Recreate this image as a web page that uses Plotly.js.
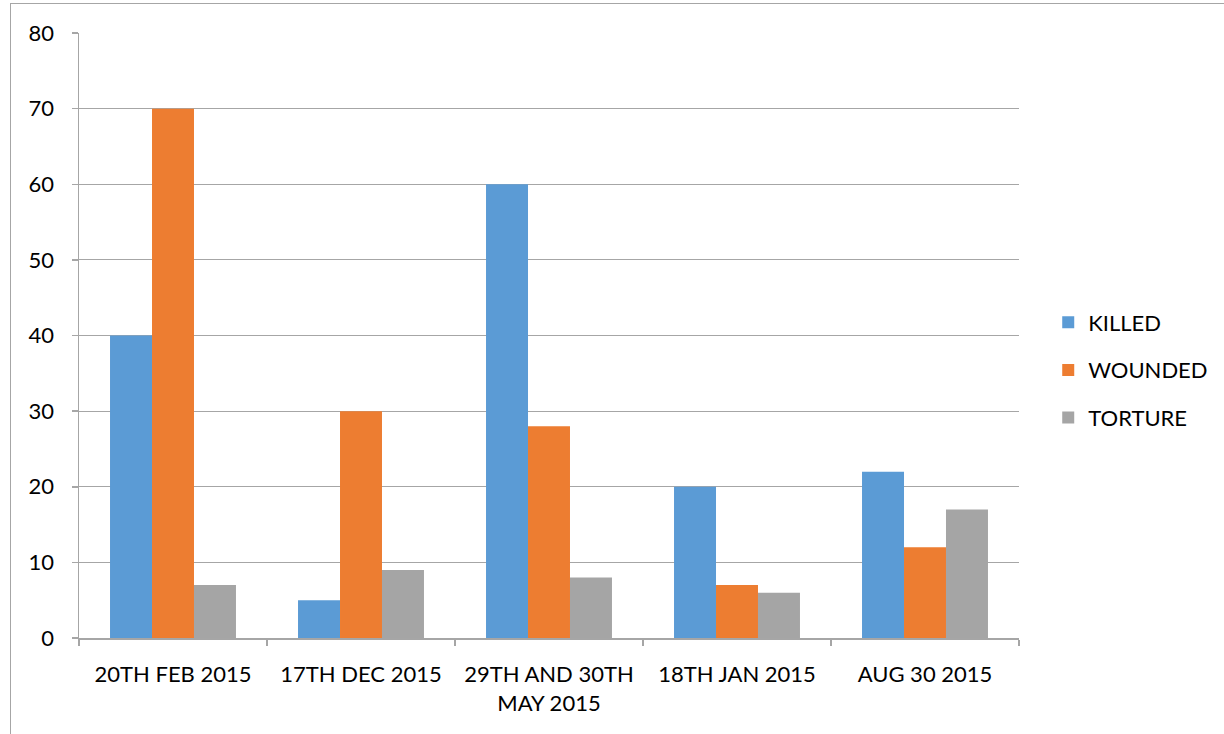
<!DOCTYPE html>
<html>
<head>
<meta charset="utf-8">
<script src="https://cdn.plot.ly/plotly-3.0.1.min.js"></script>
<style>
  html, body { margin: 0; padding: 0; background: #ffffff; }
  #wrap { position: relative; width: 1224px; height: 734px; }
  #chart { position: absolute; left: 0; top: 0; width: 1224px; height: 734px; }
  #frame { position: absolute; left: 10px; top: 3px; width: 1300px; height: 800px;
           border-left: 1.5px solid #a6a6a6; border-top: 1.5px solid #a6a6a6;
           pointer-events: none; }
</style>
</head>
<body>
<div id="wrap">
  <div id="chart"></div>
  <div id="frame"></div>
</div>
<script>
// Incident dates and casualty counts per category
const dates = ["20TH FEB 2015", "17TH DEC 2015", "29TH AND 30TH<br>MAY 2015", "18TH JAN 2015", "AUG 30 2015"];
const killed = [40, 5, 60, 20, 22];
const wounded = [70, 30, 28, 7, 12];
const torture = [7, 9, 8, 6, 17];
const yTicks = [0, 10, 20, 30, 40, 50, 60, 70, 80];

const FONT = "Lato, 'Open Sans', sans-serif";
const SIZE = 22;

function barTrace(name, values, color, group) {
  return {
    type: "bar",
    name: name,
    x: dates,
    y: values,
    legendgroup: group,
    marker: { color: color, line: { width: 0 } },
    hoverinfo: "x+y+name"
  };
}

const data = [
  barTrace("KILLED", killed, "#5b9bd5", "a"),
  barTrace("WOUNDED", wounded, "#ed7d31", "b"),
  barTrace("TORTURE", torture, "#a5a5a5", "c")
];

const layout = {
  width: 1224,
  height: 734,
  margin: { l: 79, r: 204, t: 33, b: 96, pad: 0 },
  paper_bgcolor: "#ffffff",
  plot_bgcolor: "#ffffff",
  font: { family: FONT, size: SIZE, color: "#000000" },
  barmode: "group",
  bargap: 0.33,
  bargroupgap: 0,
  showlegend: true,
  legend: {
    x: 1.03, xanchor: "left",
    y: 0.443, yanchor: "middle",
    traceorder: "grouped",
    tracegroupgap: 16,
    font: { family: FONT, size: SIZE, color: "#000000" },
    itemwidth: 30
  },
  xaxis: {
    type: "category",
    showline: true,
    linecolor: "#a6a6a6",
    linewidth: 1.5,
    ticks: "outside",
    tickson: "boundaries",
    ticklen: 6,
    tickcolor: "#a6a6a6",
    tickwidth: 1.5,
    ticklabelstandoff: 16,
    showgrid: false,
    zeroline: false,
    tickfont: { family: FONT, size: SIZE, color: "#000000" }
  },
  yaxis: {
    range: [0, 80],
    tickvals: yTicks,
    ticktext: yTicks.map(String),
    showline: true,
    linecolor: "#a6a6a6",
    linewidth: 1.5,
    ticks: "outside",
    ticklen: 6,
    tickcolor: "#a6a6a6",
    tickwidth: 1.5,
    ticklabelstandoff: 13,
    showgrid: true,
    gridcolor: "#a6a6a6",
    gridwidth: 1.2,
    zeroline: false,
    tickfont: { family: FONT, size: SIZE, color: "#000000" }
  }
};

Plotly.newPlot("chart", data, layout, { displayModeBar: false, staticPlot: true });
</script>
</body>
</html>
